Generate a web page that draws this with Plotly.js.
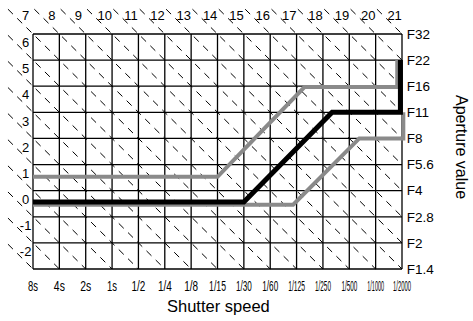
<!DOCTYPE html>
<html>
<head>
<meta charset="utf-8">
<script src="https://cdn.plot.ly/plotly-3.0.1.min.js"></script>
<style>html,body{margin:0;padding:0;background:#fff;}#chart{width:473px;height:321px;}</style>
</head>
<body>
<div id="chart"></div>
<script>
// ---- data ----
const shutterLabels = ['8s','4s','2s','1s','1/2','1/4','1/8','1/15','1/30','1/60','1/125','1/250','1/500','1/1000','1/2000'];
const apertureLabels = ['F1.4','F2','F2.8','F4','F5.6','F8','F11','F16','F22','F32'];
const evTopLabels = [7,8,9,10,11,12,13,14,15,16,17,18,19,20,21];
const evLeftLabels = [6,5,4,3,2,1,0,-1,-2];
// program lines (x = shutter step index, y = aperture step index)
const blackX = [0, 8, 11.35, 13.94, 13.94];
const blackY = [2.57, 2.57, 6, 6, 8];
const grayHighX = [0, 7, 10.3, 13.82, 13.82];
const grayHighY = [3.53, 3.53, 6.97, 6.97, 8];
const grayLowX = [0, 9.87, 12.38, 14.05, 14.05];
const grayLowY = [2.46, 2.46, 5.0, 5.0, 6];

// ---- style / layout constants ----
const tickTextWidths = [10, 11, 11, 10, 14, 14, 14, 17, 16, 16, 17, 16, 16, 17, 18]; // condensed label widths (px)
const W = 473, H = 321;
const gx0 = 33, gx1 = 402, gy0 = 269, gy1 = 34;
const nCols = shutterLabels.length - 1, nRows = apertureLabels.length - 1;
const pxX = (gx1 - gx0) / nCols, pxY = (gy0 - gy1) / nRows;
const marginR = 66, marginB = 49;
const plotW = W - marginR, plotH = H - marginB;
const xMin = -gx0 / pxX, xMax = xMin + plotW / pxX;
const yMin = -(H - marginB - gy0) / pxY, yMax = yMin + plotH / pxY;

// grid lines
const gridX = [], gridY = [];
for (let i = 0; i <= nCols; i++) { gridX.push(i, i, null); gridY.push(0, nRows, null); }
for (let j = 0; j <= nRows; j++) { gridX.push(0, nCols, null); gridY.push(j, j, null); }

// EV diagonals
const evAll = evLeftLabels.concat(evTopLabels).sort((a,b)=>a-b);
const ext = 0.95;
const evX = [], evY = [];
evAll.forEach(ev => {
  const s = ev + 2;
  let sx, sy; if (s <= nRows) { sx = 0; sy = s; } else { sx = s - nRows; sy = nRows; }
  let ex, ey; if (s <= nCols) { ex = s; ey = 0; } else { ex = nCols; ey = s - nCols; }
  evX.push(sx - ext, ex, null); evY.push(sy + ext, ey, null);
});
const lblX = [], lblY = [], lblT = [];
evTopLabels.forEach(ev => { lblX.push(ev + 2 - nRows - 0.28); lblY.push(nRows + 0.67); lblT.push(String(ev)); });
evLeftLabels.forEach(ev => { lblX.push(-0.28); lblY.push(ev + 2 + 0.62); lblT.push(String(ev)); });
lblX.push(nCols + 0.57); lblY.push(nRows + 0.67); lblT.push('EV');

const sansFont = 'Liberation Sans, Arial, Helvetica, sans-serif';
const labelFont = {family: sansFont, size: 13, color: '#000'};
const tickFont = {family: sansFont, size: 14, color: '#000'};

const traces = [
  {x: evX, y: evY, mode: 'lines', line: {color: '#000', width: 1, dash: '7px,6px'}, hoverinfo: 'skip', showlegend: false},
  {x: gridX, y: gridY, mode: 'lines', line: {color: '#000', width: 1.3}, hoverinfo: 'skip', showlegend: false},
  {x: grayHighX, y: grayHighY, mode: 'lines', line: {color: '#8a8a8a', width: 4}, showlegend: false},
  {x: grayLowX, y: grayLowY, mode: 'lines', line: {color: '#8a8a8a', width: 4}, showlegend: false},
  {x: blackX, y: blackY, mode: 'lines', line: {color: '#000', width: 5}, showlegend: false},
  {x: lblX, y: lblY, text: lblT, mode: 'text', textposition: 'middle center', cliponaxis: false,
   textfont: labelFont, hoverinfo: 'skip', showlegend: false}
];

const layout = {
  width: W, height: H,
  margin: {l: 0, r: marginR, t: 0, b: marginB, pad: 0},
  paper_bgcolor: '#fff', plot_bgcolor: '#fff',
  showlegend: false,
  xaxis: {range: [xMin, xMax], showgrid: false, zeroline: false, showline: false,
          tickmode: 'array', tickvals: shutterLabels.map((_, i) => i), ticktext: shutterLabels,
          ticks: 'outside', ticklen: 1, tickcolor: 'rgba(0,0,0,0)', tickfont: tickFont, tickangle: 0, automargin: false, fixedrange: true},
  yaxis: {range: [yMin, yMax], side: 'right', showgrid: false, zeroline: false, showline: false,
          tickmode: 'array', tickvals: apertureLabels.map((_, i) => i), ticktext: apertureLabels,
          ticks: 'outside', ticklen: 1, tickcolor: 'rgba(0,0,0,0)', ticklabelstandoff: -5,
          tickfont: {family: sansFont, size: 13.5, color: '#000'}, automargin: false, fixedrange: true},
  annotations: [
    {text: 'Shutter speed', xref: 'paper', yref: 'paper', x: 218 / plotW, y: -(306 - plotH) / plotH,
     xanchor: 'center', yanchor: 'middle', showarrow: false,
     font: {family: sansFont, size: 16.5, color: '#000'}},
    {text: 'Aperture value', xref: 'paper', yref: 'paper', x: 462 / plotW, y: (plotH - 147) / plotH,
     xanchor: 'center', yanchor: 'middle', showarrow: false, textangle: 90,
     font: {family: sansFont, size: 16, color: '#000'}}
  ]
};

// horizontally condense the shutter-speed tick labels (kept as real text)
function condenseTicks(gd) {
  gd.querySelectorAll('.xtick text').forEach(node => {
    if (node.getAttribute('data-condensed')) return;
    const idx = shutterLabels.indexOf(node.textContent);
    if (idx < 0) return;
    const bb = node.getBBox();
    if (!bb.width) return;
    const s = tickTextWidths[idx] / bb.width;
    const cx = bb.x + bb.width / 2;
    const prev = node.getAttribute('transform') || '';
    node.setAttribute('transform', prev + ' translate(' + cx + ',0) scale(' + s + ',1) translate(' + (-cx) + ',0)');
    node.setAttribute('data-condensed', '1');
  });
}

Plotly.newPlot('chart', traces, layout, {displayModeBar: false, staticPlot: true}).then(gd => {
  condenseTicks(gd);
});
</script>
</body>
</html>
